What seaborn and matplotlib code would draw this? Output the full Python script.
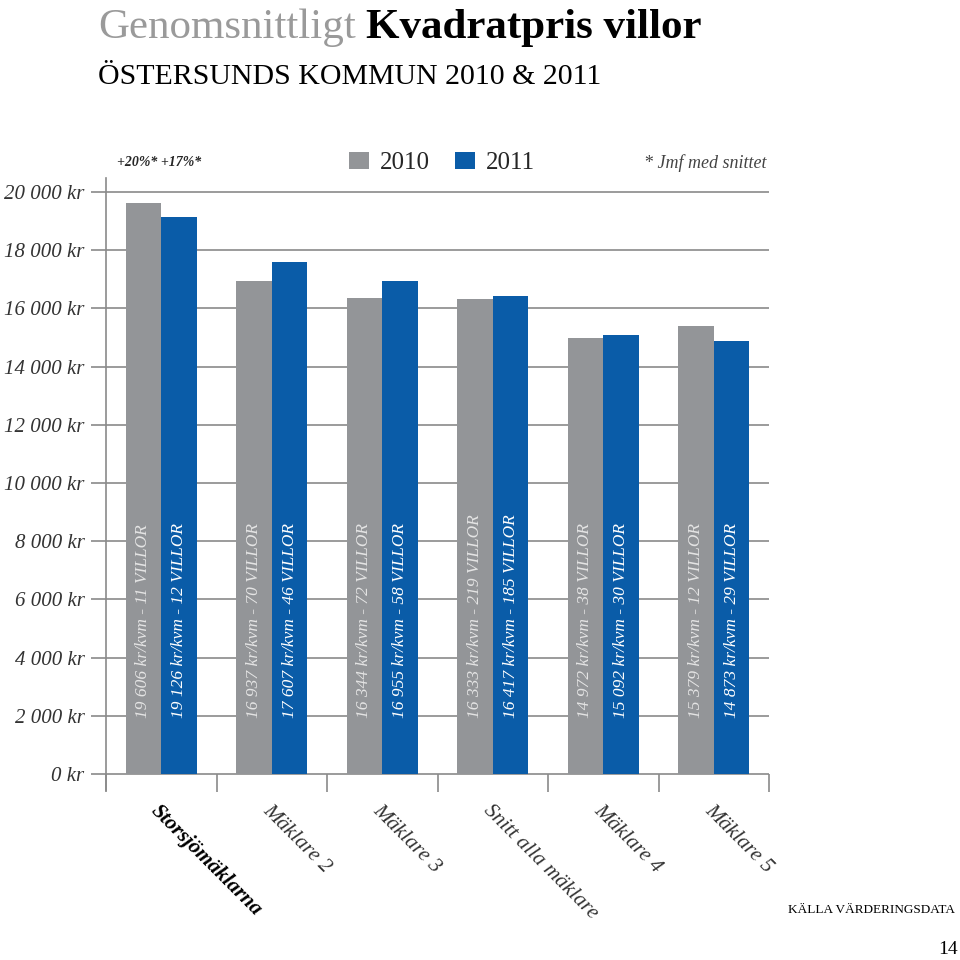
import matplotlib
matplotlib.use('Agg')
import pandas as pd
import matplotlib.pyplot as plt
import seaborn as sns

# data
maklare = ['Storsjömäklarna', 'Mäklare 2', 'Mäklare 3',
           'Snitt alla mäklare', 'Mäklare 4', 'Mäklare 5']
pris_2010 = [19606, 16937, 16344, 16333, 14972, 15379]
pris_2011 = [19126, 17607, 16955, 16417, 15092, 14873]
villor_2010 = [11, 70, 72, 219, 38, 12]
villor_2011 = [12, 46, 58, 185, 30, 29]
years = ['2010', '2011']
y_ticks = list(range(0, 20001, 2000))

GRAY = '#939598'
BLUE = '#0a5ca8'
LINE = '#8a8a8a'
SERIF = ['Liberation Serif', 'DejaVu Serif']

sns.set_style('white')
plt.rcParams['font.family'] = SERIF

df = pd.DataFrame({
    'maklare': maklare * 2,
    'ar': [years[0]] * 6 + [years[1]] * 6,
    'pris': pris_2010 + pris_2011,
})

fig = plt.figure(figsize=(9.6, 9.6), dpi=100)
ax = fig.add_axes([106 / 960, 1 - 790 / 960, 663 / 960, 612 / 960])

sns.barplot(data=df, x='maklare', y='pris', hue='ar', order=maklare,
            hue_order=years, palette=[GRAY, BLUE], width=0.645,
            saturation=1, errorbar=None, ax=ax, zorder=2,
            linewidth=0, edgecolor='none')

# axes and grid
ax.set_xlim(-0.5, len(maklare) - 0.5)
ax.set_ylim(-550, 20481)
ax.set_yticks(y_ticks)
ax.set_yticklabels([f'{v:,} kr'.replace(',', ' ') for v in y_ticks],
                   fontsize=15, fontstyle='italic', color='#333333')
ax.yaxis.grid(True, color=LINE, linewidth=1.2)
ax.set_axisbelow(True)
ax.tick_params(axis='y', direction='out', length=10.5, width=1.2,
               color=LINE, pad=5, left=True)
for side in ['top', 'right', 'bottom']:
    ax.spines[side].set_visible(False)
ax.spines['left'].set_color(LINE)
ax.spines['left'].set_linewidth(1.2)
ax.set_xlabel('')
ax.set_ylabel('')

# group separators below the zero line
ax.vlines([i - 0.5 for i in range(len(maklare) + 1)], -620, 0,
          color=LINE, linewidth=1.2, clip_on=False)

ax.set_xticks(range(len(maklare)))
ax.set_xticklabels(maklare, rotation=-45, ha='left', va='top',
                   rotation_mode='anchor', fontsize=15.5, fontstyle='italic',
                   color='#333333')
ax.tick_params(axis='x', length=0, pad=8)
ax.get_xticklabels()[0].set_fontweight('bold')
ax.get_xticklabels()[0].set_color('black')

# labels inside the bars
for cont, vals, cnts, col in zip(ax.containers, [pris_2010, pris_2011],
                                 [villor_2010, villor_2011],
                                 ['#e4e4e4', 'white']):
    for bar, v, n in zip(cont, vals, cnts):
        txt = f'{v:,} kr/kvm - {n} VILLOR'.replace(',', ' ')
        ax.text(bar.get_x() + bar.get_width() / 2, 1920, txt,
                rotation=90, ha='center', va='bottom', fontsize=12.5,
                fontstyle='italic', color=col, zorder=3)

# legend
sns.move_legend(ax, 'center', bbox_to_anchor=(442 / 960, 1 - 163 / 960),
                bbox_transform=fig.transFigure, ncol=2, frameon=False,
                title=None, fontsize=18, handlelength=0.8, handleheight=0.65,
                handletextpad=0.45, columnspacing=1.0)

fig.text(117 / 960, 1 - 163 / 960, '+20%* +17%*', fontsize=10,
         fontstyle='italic', fontweight='bold', va='center', ha='left')
fig.text(766 / 960, 1 - 163 / 960, '* Jmf med snittet', fontsize=13,
         fontstyle='italic', color='#444444', va='center', ha='right')

# title
t1 = fig.text(98 / 960, 1 - 38 / 960, 'Genomsnittligt', fontsize=31,
              color='#9a9a9a', va='baseline', ha='left')
fig.canvas.draw()
x_end = t1.get_window_extent().x1 / fig.bbox.width
fig.text(x_end + 10 / 960, 1 - 38 / 960, 'Kvadratpris villor', fontsize=31,
         fontweight='bold', color='black', va='baseline', ha='left')
fig.text(98 / 960, 1 - 84 / 960, 'ÖSTERSUNDS KOMMUN 2010 & 2011',
         fontsize=21.5, color='black', va='baseline', ha='left')

fig.text(955 / 960, 1 - 910 / 960, 'KÄLLA VÄRDERINGSDATA', fontsize=9.5,
         color='black', va='center', ha='right')
fig.text(958 / 960, 1 - 950 / 960, '14', fontsize=14, color='black',
         va='center', ha='right')

fig.savefig('out.png', dpi=100)
